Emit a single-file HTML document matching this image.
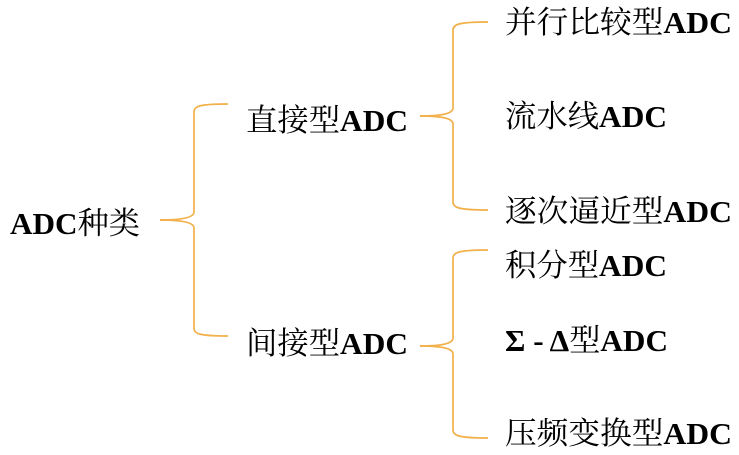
<!DOCTYPE html>
<html><head><meta charset="utf-8"><style>
html,body{margin:0;padding:0;background:#fff;}
svg{display:block;}
text{font-family:"Liberation Serif","Noto Serif CJK SC",serif;font-size:31px;fill:#000;}
.b{font-weight:bold;}
path{fill:none;stroke:#f2b04a;stroke-width:1.7;}
</style></head><body>
<svg width="739" height="455" viewBox="0 0 739 455">
<path d="M160,220 C180,220 194,218 194,212 L194,112 C194,106 200,104 228,104"/>
<path d="M160,220 C180,220 194,222 194,228 L194,328 C194,334 200,336 228,336"/>
<path d="M420,116 C440,116 453,114 453,108 L453,30 C453,24 460,22 488,22"/>
<path d="M420,116 C440,116 453,118 453,124 L453,202 C453,208 460,210 488,210"/>
<path d="M420,346 C440,346 453,344 453,338 L453,258 C453,252 460,250 488,250"/>
<path d="M420,346 C440,346 453,348 453,354 L453,430 C453,436 460,438 488,438"/>

<text x="10" y="234" textLength="130" lengthAdjust="spacingAndGlyphs"><tspan class="b">ADC</tspan>种类</text>
<text x="246" y="131" textLength="162" lengthAdjust="spacingAndGlyphs">直接型<tspan class="b">ADC</tspan></text>
<text x="246" y="354" textLength="162" lengthAdjust="spacingAndGlyphs">间接型<tspan class="b">ADC</tspan></text>

<text x="505" y="33" textLength="227" lengthAdjust="spacingAndGlyphs">并行比较型<tspan class="b">ADC</tspan></text>
<text x="505" y="127" textLength="162" lengthAdjust="spacingAndGlyphs">流水线<tspan class="b">ADC</tspan></text>
<text x="505" y="222" textLength="227" lengthAdjust="spacingAndGlyphs">逐次逼近型<tspan class="b">ADC</tspan></text>
<text x="505" y="276" textLength="162" lengthAdjust="spacingAndGlyphs">积分型<tspan class="b">ADC</tspan></text>
<text x="505" y="351" textLength="163" lengthAdjust="spacingAndGlyphs"><tspan class="b">Σ - Δ</tspan>型<tspan class="b">ADC</tspan></text>
<text x="505" y="444" textLength="227" lengthAdjust="spacingAndGlyphs">压频变换型<tspan class="b">ADC</tspan></text>
</svg>
</body></html>
